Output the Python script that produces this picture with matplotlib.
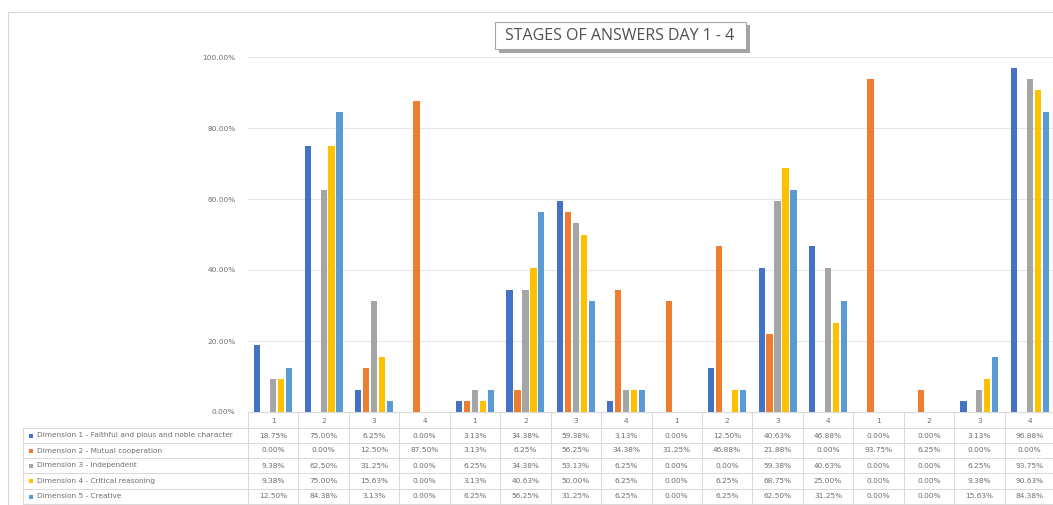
import matplotlib
matplotlib.use("Agg")
import matplotlib.pyplot as plt
from matplotlib.patches import Rectangle, FancyBboxPatch
from matplotlib.transforms import blended_transform_factory
import numpy as np

categories = ["1", "2", "3", "4", "1", "2", "3", "4", "1", "2", "3", "4", "1", "2", "3", "4"]
series_names = [
    "Dimension 1 - Faithful and pious and noble character",
    "Dimension 2 - Mutual cooperation",
    "Dimension 3 - Independent",
    "Dimension 4 - Critical reasoning",
    "Dimension 5 - Creative",
]
dim1 = [18.75, 75.00, 6.25, 0.00, 3.13, 34.38, 59.38, 3.13, 0.00, 12.50, 40.63, 46.88, 0.00, 0.00, 3.13, 96.88]
dim2 = [0.00, 0.00, 12.50, 87.50, 3.13, 6.25, 56.25, 34.38, 31.25, 46.88, 21.88, 0.00, 93.75, 6.25, 0.00, 0.00]
dim3 = [9.38, 62.50, 31.25, 0.00, 6.25, 34.38, 53.13, 6.25, 0.00, 0.00, 59.38, 40.63, 0.00, 0.00, 6.25, 93.75]
dim4 = [9.38, 75.00, 15.63, 0.00, 3.13, 40.63, 50.00, 6.25, 0.00, 6.25, 68.75, 25.00, 0.00, 0.00, 9.38, 90.63]
dim5 = [12.50, 84.38, 3.13, 0.00, 6.25, 56.25, 31.25, 6.25, 0.00, 6.25, 62.50, 31.25, 0.00, 0.00, 15.63, 84.38]
series = [dim1, dim2, dim3, dim4, dim5]
colors = ["#4472C4", "#ED7D31", "#A5A5A5", "#FFC000", "#5B9BD5"]

W, H = 1053, 505
fig = plt.figure(figsize=(W / 100, H / 100), dpi=100)
fig.patch.set_facecolor("white")
small = 5.3
text_c = "#6E6E6E"


def fy(py):
    return (H - py) / H


def fx(px):
    return px / W


# chart area border
fig.patches.append(Rectangle((fx(8), fy(H + 5)), 1.2, fy(12) - fy(H + 5), transform=fig.transFigure,
                             fill=False, edgecolor="#D9D9D9", linewidth=0.8))

ax = fig.add_axes([fx(248), fy(412), fx(1055) - fx(248), fy(57) - fy(412)])
ax.set_xlim(-0.5, len(categories) - 0.5)
ax.set_ylim(0, 100)
x = np.arange(len(categories))
step = 0.158
for k, (vals, c) in enumerate(zip(series, colors)):
    ax.bar(x + (k - 2) * step, vals, width=0.125, color=c, zorder=3)

ax.set_yticks(np.arange(0, 101, 20))
ax.set_yticklabels([f"{v:.2f}%" for v in np.arange(0, 101, 20)], fontsize=small, color=text_c)
ax.tick_params(axis="y", length=0, pad=9)
ax.set_xticks([])
ax.grid(axis="y", color="#E6E6E6", linewidth=0.8, zorder=0)
for s in ["top", "right", "left"]:
    ax.spines[s].set_visible(False)
ax.spines["bottom"].set_color("#D9D9D9")
ax.spines["bottom"].set_linewidth(0.8)

# data table below the axis
tr = blended_transform_factory(ax.transData, fig.transFigure)
row_bounds = [412, 428, 443, 458, 473, 489, 504]
line_c = "#D9D9D9"
for i, cat in enumerate(categories):
    fig.text(i, fy(421), cat, transform=tr, ha="center", va="center", fontsize=small, color=text_c)
for i in range(len(categories) + 1):
    fig.add_artist(plt.Line2D([i - 0.5, i - 0.5], [fy(412), fy(504)], transform=tr, color=line_c, linewidth=0.7))
for yb in row_bounds[1:]:
    fig.add_artist(plt.Line2D([fx(23), 1.0], [fy(yb), fy(yb)], transform=fig.transFigure, color=line_c, linewidth=0.7))
fig.add_artist(plt.Line2D([fx(23), fx(23)], [fy(428), fy(504)], transform=fig.transFigure, color=line_c, linewidth=0.7))

for r, (name, vals, c) in enumerate(zip(series_names, series, colors)):
    yc = fy((row_bounds[r + 1] + row_bounds[r + 2]) / 2)
    fig.patches.append(Rectangle((fx(29), yc - 2 / H), 4 / W, 4 / H, transform=fig.transFigure,
                                 facecolor=c, edgecolor="none"))
    fig.text(fx(37), yc, name, ha="left", va="center", fontsize=small, color=text_c)
    for i, v in enumerate(vals):
        fig.text(i, yc, f"{v:.2f}%", transform=tr, ha="center", va="center", fontsize=small, color=text_c)

# title with shadow box
shadow = FancyBboxPatch((fx(499), fy(53)), fx(750) - fx(499), fy(25) - fy(53), boxstyle="square,pad=0",
                        transform=fig.transFigure, facecolor="#8C8C8C", edgecolor="none", alpha=0.8)
fig.patches.append(shadow)
box = FancyBboxPatch((fx(495), fy(49)), fx(746) - fx(495), fy(22) - fy(49), boxstyle="square,pad=0",
                     transform=fig.transFigure, facecolor="white", edgecolor="#A6A6A6", linewidth=0.8)
fig.patches.append(box)
fig.text(fx(620), fy(36), "STAGES OF ANSWERS DAY 1 - 4", ha="center", va="center",
         fontsize=11.5, color="#505050", family="Open Sans")

fig.savefig("out.png", dpi=100)
